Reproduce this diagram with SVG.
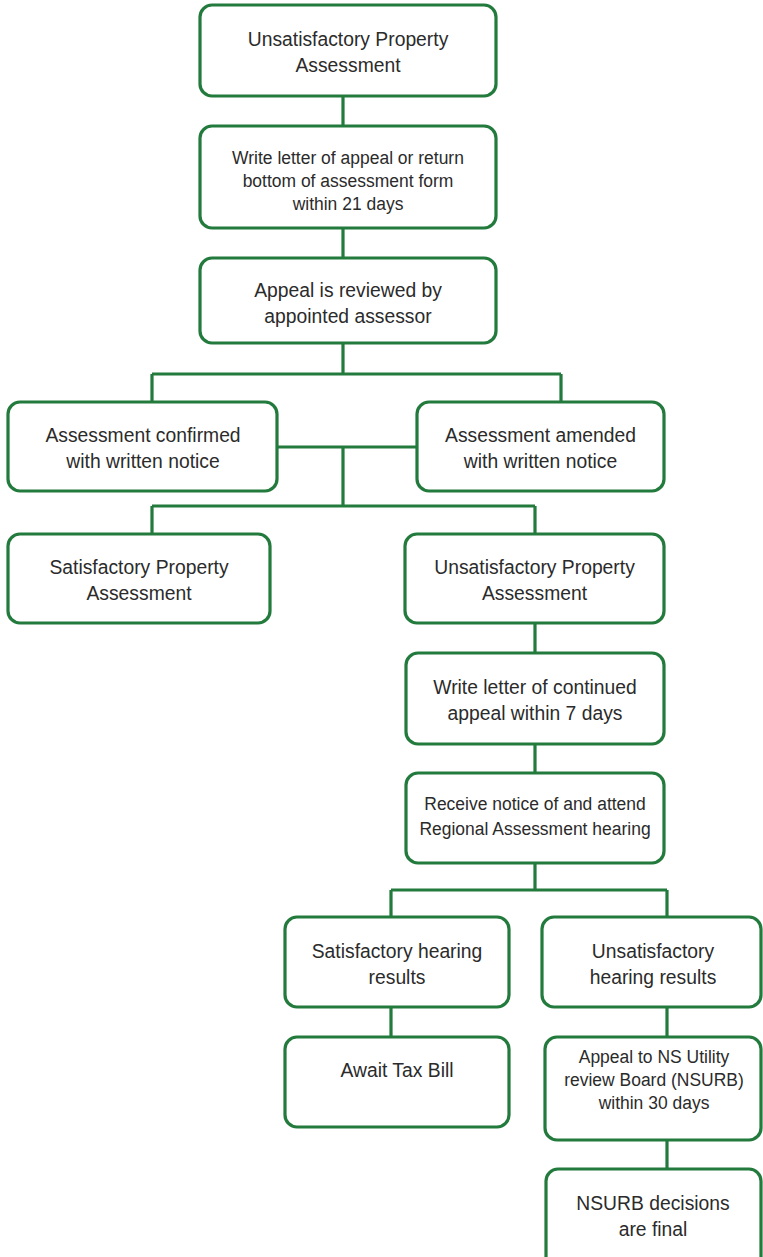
<svg xmlns="http://www.w3.org/2000/svg" width="763" height="1257" viewBox="0 0 763 1257">
<style>
.box{fill:#fff;stroke:#237a3d;stroke-width:3.2}
.c{fill:none;stroke:#237a3d;stroke-width:3.2;stroke-linecap:butt}
.L{font-family:"Liberation Sans",Arial,sans-serif;font-size:21px;fill:#2b2b2b;text-anchor:middle}
.S{font-family:"Liberation Sans",Arial,sans-serif;font-size:19px;fill:#2b2b2b;text-anchor:middle}
</style>
<rect width="763" height="1257" fill="#fff"/>
<g id="connectors">
<path class="c" d="M343 96V126M343 228V258M343 343V374M152 374H561M152 374V402M561 374V402"/>
<path class="c" d="M277 447H417M343 447V506M152 506H535M152 506V534M535 506V534"/>
<path class="c" d="M535 623V653M535 744V773M535 863V890M391 890H667M391 890V917M667 890V917"/>
<path class="c" d="M391 1007V1037M667 1007V1037M667 1140V1169"/>
</g>
<g id="n1"><rect class="box" x="200" y="5" width="296" height="91" rx="12"/>
<text class="L" transform="translate(348,0) scale(0.92,1)"><tspan x="0" y="46">Unsatisfactory Property</tspan><tspan x="0" y="72">Assessment</tspan></text></g>
<g id="n2"><rect class="box" x="200" y="126" width="296" height="102" rx="12"/>
<text class="S" transform="translate(348,0) scale(0.92,1)"><tspan x="0" y="164">Write letter of appeal or return</tspan><tspan x="0" y="187">bottom of assessment form</tspan><tspan x="0" y="210">within 21 days</tspan></text></g>
<g id="n3"><rect class="box" x="200" y="258" width="296" height="85" rx="12"/>
<text class="L" transform="translate(348,0) scale(0.92,1)"><tspan x="0" y="297">Appeal is reviewed by</tspan><tspan x="0" y="323">appointed assessor</tspan></text></g>
<g id="n4"><rect class="box" x="8" y="402" width="269" height="89" rx="12"/>
<text class="L" transform="translate(143,0) scale(0.92,1)"><tspan x="0" y="442">Assessment confirmed</tspan><tspan x="0" y="468">with written notice</tspan></text></g>
<g id="n5"><rect class="box" x="417" y="402" width="247" height="89" rx="12"/>
<text class="L" transform="translate(540.5,0) scale(0.92,1)"><tspan x="0" y="442">Assessment amended</tspan><tspan x="0" y="468">with written notice</tspan></text></g>
<g id="n6"><rect class="box" x="8" y="534" width="262" height="89" rx="12"/>
<text class="L" transform="translate(139,0) scale(0.92,1)"><tspan x="0" y="574">Satisfactory Property</tspan><tspan x="0" y="600">Assessment</tspan></text></g>
<g id="n7"><rect class="box" x="405" y="534" width="259" height="89" rx="12"/>
<text class="L" transform="translate(534.5,0) scale(0.92,1)"><tspan x="0" y="574">Unsatisfactory Property</tspan><tspan x="0" y="600">Assessment</tspan></text></g>
<g id="n8"><rect class="box" x="406" y="653" width="258" height="91" rx="12"/>
<text class="L" transform="translate(535,0) scale(0.92,1)"><tspan x="0" y="694">Write letter of continued</tspan><tspan x="0" y="720">appeal within 7 days</tspan></text></g>
<g id="n9"><rect class="box" x="406" y="773" width="258" height="90" rx="12"/>
<text class="S" transform="translate(535,0) scale(0.92,1)"><tspan x="0" y="810">Receive notice of and attend</tspan><tspan x="0" y="835">Regional Assessment hearing</tspan></text></g>
<g id="n10"><rect class="box" x="285" y="917" width="224" height="90" rx="12"/>
<text class="L" transform="translate(397,0) scale(0.92,1)"><tspan x="0" y="958">Satisfactory hearing</tspan><tspan x="0" y="984">results</tspan></text></g>
<g id="n11"><rect class="box" x="542" y="917" width="219" height="90" rx="12"/>
<text class="L" transform="translate(653,0) scale(0.92,1)"><tspan x="0" y="958">Unsatisfactory</tspan><tspan x="0" y="984">hearing results</tspan></text></g>
<g id="n12"><rect class="box" x="285" y="1037" width="224" height="90" rx="12"/>
<text class="L" transform="translate(397,0) scale(0.92,1)"><tspan x="0" y="1077">Await Tax Bill</tspan></text></g>
<g id="n13"><rect class="box" x="545" y="1037" width="216" height="103" rx="12"/>
<text class="S" transform="translate(654,0) scale(0.92,1)"><tspan x="0" y="1063">Appeal to NS Utility</tspan><tspan x="0" y="1086">review Board (NSURB)</tspan><tspan x="0" y="1109">within 30 days</tspan></text></g>
<g id="n14"><rect class="box" x="546" y="1169" width="215" height="100" rx="12"/>
<text class="L" transform="translate(653,0) scale(0.92,1)"><tspan x="0" y="1210">NSURB decisions</tspan><tspan x="0" y="1236">are final</tspan></text></g>
</svg>
